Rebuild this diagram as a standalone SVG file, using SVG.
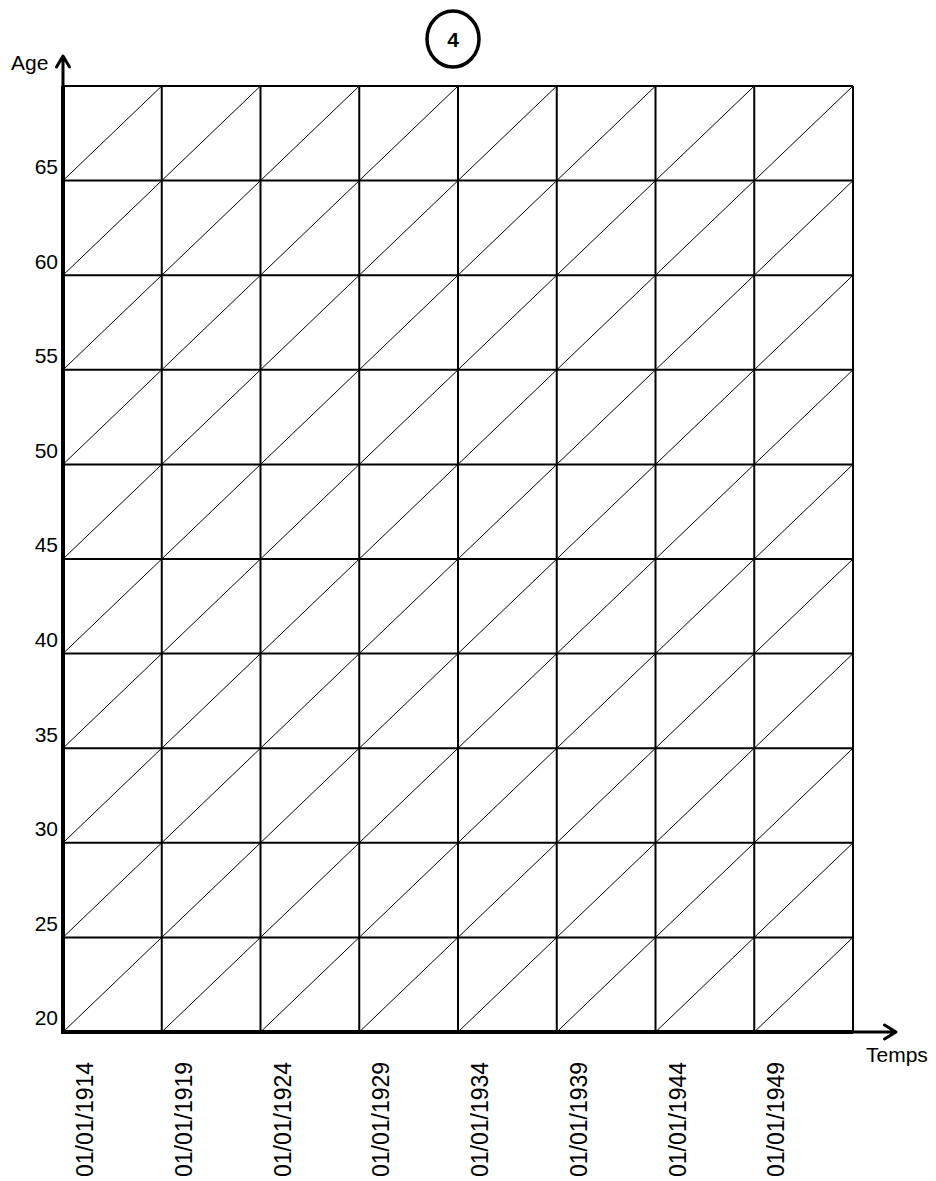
<svg xmlns="http://www.w3.org/2000/svg" width="936" height="1181" viewBox="0 0 936 1181">
<style>
.grid{stroke:#000;stroke-width:2;fill:none}
.diag{stroke:#000;stroke-width:1;fill:none}
.axis{stroke:#000;stroke-width:4;fill:none}
.arr{stroke:#000;stroke-width:3;fill:none;stroke-linecap:round;stroke-linejoin:round}
.lbl{font-family:"Liberation Sans",Arial,sans-serif;font-size:21px;fill:#000}
.age{font-family:"Liberation Sans",Arial,sans-serif;font-size:21px;fill:#000;text-anchor:end}
.date{font-family:"Liberation Sans",Arial,sans-serif;font-size:23px;fill:#000}
</style>
<rect width="936" height="1181" fill="#fff"/>
<g id="badge">
<ellipse cx="453" cy="39" rx="26" ry="28" fill="none" stroke="#000" stroke-width="3.5"/>
<text x="453" y="47" text-anchor="middle" font-family="Liberation Sans,Arial,sans-serif" font-weight="bold" font-size="21">4</text>
</g>
<g id="grid">
<g class="grid">
<line x1="63" y1="86" x2="853" y2="86"/>
<line x1="63" y1="180.6" x2="853" y2="180.6"/>
<line x1="63" y1="275.2" x2="853" y2="275.2"/>
<line x1="63" y1="369.8" x2="853" y2="369.8"/>
<line x1="63" y1="464.4" x2="853" y2="464.4"/>
<line x1="63" y1="559" x2="853" y2="559"/>
<line x1="63" y1="653.6" x2="853" y2="653.6"/>
<line x1="63" y1="748.2" x2="853" y2="748.2"/>
<line x1="63" y1="842.8" x2="853" y2="842.8"/>
<line x1="63" y1="937.4" x2="853" y2="937.4"/>
<line x1="161.75" y1="86" x2="161.75" y2="1032"/>
<line x1="260.5" y1="86" x2="260.5" y2="1032"/>
<line x1="359.25" y1="86" x2="359.25" y2="1032"/>
<line x1="458" y1="86" x2="458" y2="1032"/>
<line x1="556.75" y1="86" x2="556.75" y2="1032"/>
<line x1="655.5" y1="86" x2="655.5" y2="1032"/>
<line x1="754.25" y1="86" x2="754.25" y2="1032"/>
<line x1="853" y1="86" x2="853" y2="1032"/>
</g>
<g class="diag">
<path d="M63 180.6L161.75 86M161.75 180.6L260.5 86M260.5 180.6L359.25 86M359.25 180.6L458 86M458 180.6L556.75 86M556.75 180.6L655.5 86M655.5 180.6L754.25 86M754.25 180.6L853 86"/>
<path d="M63 275.2L161.75 180.6M161.75 275.2L260.5 180.6M260.5 275.2L359.25 180.6M359.25 275.2L458 180.6M458 275.2L556.75 180.6M556.75 275.2L655.5 180.6M655.5 275.2L754.25 180.6M754.25 275.2L853 180.6"/>
<path d="M63 369.8L161.75 275.2M161.75 369.8L260.5 275.2M260.5 369.8L359.25 275.2M359.25 369.8L458 275.2M458 369.8L556.75 275.2M556.75 369.8L655.5 275.2M655.5 369.8L754.25 275.2M754.25 369.8L853 275.2"/>
<path d="M63 464.4L161.75 369.8M161.75 464.4L260.5 369.8M260.5 464.4L359.25 369.8M359.25 464.4L458 369.8M458 464.4L556.75 369.8M556.75 464.4L655.5 369.8M655.5 464.4L754.25 369.8M754.25 464.4L853 369.8"/>
<path d="M63 559L161.75 464.4M161.75 559L260.5 464.4M260.5 559L359.25 464.4M359.25 559L458 464.4M458 559L556.75 464.4M556.75 559L655.5 464.4M655.5 559L754.25 464.4M754.25 559L853 464.4"/>
<path d="M63 653.6L161.75 559M161.75 653.6L260.5 559M260.5 653.6L359.25 559M359.25 653.6L458 559M458 653.6L556.75 559M556.75 653.6L655.5 559M655.5 653.6L754.25 559M754.25 653.6L853 559"/>
<path d="M63 748.2L161.75 653.6M161.75 748.2L260.5 653.6M260.5 748.2L359.25 653.6M359.25 748.2L458 653.6M458 748.2L556.75 653.6M556.75 748.2L655.5 653.6M655.5 748.2L754.25 653.6M754.25 748.2L853 653.6"/>
<path d="M63 842.8L161.75 748.2M161.75 842.8L260.5 748.2M260.5 842.8L359.25 748.2M359.25 842.8L458 748.2M458 842.8L556.75 748.2M556.75 842.8L655.5 748.2M655.5 842.8L754.25 748.2M754.25 842.8L853 748.2"/>
<path d="M63 937.4L161.75 842.8M161.75 937.4L260.5 842.8M260.5 937.4L359.25 842.8M359.25 937.4L458 842.8M458 937.4L556.75 842.8M556.75 937.4L655.5 842.8M655.5 937.4L754.25 842.8M754.25 937.4L853 842.8"/>
<path d="M63 1032L161.75 937.4M161.75 1032L260.5 937.4M260.5 1032L359.25 937.4M359.25 1032L458 937.4M458 1032L556.75 937.4M556.75 1032L655.5 937.4M655.5 1032L754.25 937.4M754.25 1032L853 937.4"/>
</g>
</g>
<g id="axes">
<line class="axis" x1="63" y1="1034" x2="63" y2="86"/>
<line class="axis" x1="61" y1="1032" x2="853" y2="1032"/>
<path class="arr" d="M63 86V57M56.5 67L63 56L69.5 67"/>
<path class="arr" d="M853 1032H895M884.5 1025L896 1032L884.5 1039"/>
</g>
<g id="axis-labels">
<text class="lbl" x="11" y="70">Age</text>
<text class="lbl" x="866" y="1062">Temps</text>
</g>
<g id="age-labels">
<text class="age" x="58" y="174">65</text>
<text class="age" x="58" y="269">60</text>
<text class="age" x="58" y="363">55</text>
<text class="age" x="58" y="458">50</text>
<text class="age" x="58" y="552">45</text>
<text class="age" x="58" y="647">40</text>
<text class="age" x="58" y="742">35</text>
<text class="age" x="58" y="836">30</text>
<text class="age" x="58" y="931">25</text>
<text class="age" x="58" y="1025">20</text>
</g>
<g id="date-labels">
<text class="date" transform="translate(93 1177) rotate(-90)">01/01/1914</text>
<text class="date" transform="translate(192 1177) rotate(-90)">01/01/1919</text>
<text class="date" transform="translate(290.5 1177) rotate(-90)">01/01/1924</text>
<text class="date" transform="translate(389 1177) rotate(-90)">01/01/1929</text>
<text class="date" transform="translate(488 1177) rotate(-90)">01/01/1934</text>
<text class="date" transform="translate(586.5 1177) rotate(-90)">01/01/1939</text>
<text class="date" transform="translate(685.5 1177) rotate(-90)">01/01/1944</text>
<text class="date" transform="translate(784 1177) rotate(-90)">01/01/1949</text>
</g>
</svg>
